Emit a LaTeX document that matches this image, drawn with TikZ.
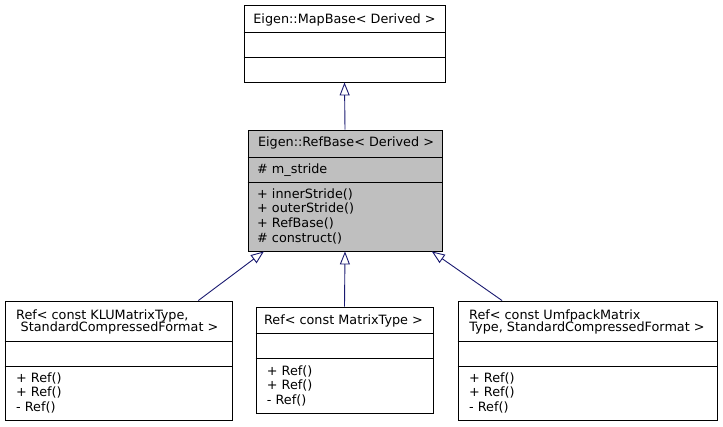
\documentclass[tikz,border=0pt]{standalone}
\usepackage{fontspec}
\setmainfont{DejaVu Sans}
\usetikzlibrary{arrows.meta}
\definecolor{edgecol}{HTML}{191970}
\definecolor{fillg}{HTML}{BFBFBF}
\begin{document}
\begin{tikzpicture}[x=1pt,y=-1pt,
  box/.style={draw=black, line width=0.9pt, inner sep=0pt, fill=white},
  graybox/.style={box, fill=fillg},
  div/.style={draw=black, line width=0.9pt},
  txt/.style={inner sep=0pt, anchor=west, yshift=-1.2pt, font=\fontsize{12.8}{14.7}\selectfont},
  ctxt/.style={inner sep=0pt, anchor=center, yshift=-1.2pt, font=\fontsize{12.8}{14.7}\selectfont},
  inh/.style={draw=edgecol, line width=0.9pt, -{Triangle[length=13pt,width=10pt,fill=white]}}
]
\useasboundingbox (0,0) rectangle (723,427);
% boxes
\node[box, minimum width=201pt, minimum height=77pt] (mapbase) at (344.5,43.5) {};
\node[graybox, minimum width=194pt, minimum height=121pt] (refbase) at (345,190.5) {};
\node[box, minimum width=227pt, minimum height=119pt] (klu) at (118.5,360.5) {};
\node[box, minimum width=177pt, minimum height=106pt] (mat) at (344.5,360) {};
\node[box, minimum width=259pt, minimum height=119pt] (umf) at (587.5,360.5) {};
% dividers
\draw[div] (mapbase.west |- 0,32) -- (mapbase.east |- 0,32);
\draw[div] (mapbase.west |- 0,57) -- (mapbase.east |- 0,57);
\draw[div] (refbase.west |- 0,157) -- (refbase.east |- 0,157);
\draw[div] (refbase.west |- 0,182) -- (refbase.east |- 0,182);
\draw[div] (klu.west |- 0,341) -- (klu.east |- 0,341);
\draw[div] (klu.west |- 0,366) -- (klu.east |- 0,366);
\draw[div] (mat.west |- 0,333) -- (mat.east |- 0,333);
\draw[div] (mat.west |- 0,358) -- (mat.east |- 0,358);
\draw[div] (umf.west |- 0,341) -- (umf.east |- 0,341);
\draw[div] (umf.west |- 0,366) -- (umf.east |- 0,366);
% texts
\node[ctxt] (t1) at (344.5,18.3) {Eigen::MapBase< Derived >};
\node[ctxt] (t2) at (346,142) {Eigen::RefBase< Derived >};
\node[txt] (t2a) at (257,168.5) {\# m\_stride};
\node[txt] (t2b) at (257,193) {+ innerStride()};
\node[txt] (t2c) at (257,207.7) {+ outerStride()};
\node[txt] (t2d) at (257,222.4) {+ RefBase()};
\node[txt] (t2e) at (257,237) {\# construct()};
\node[txt] (t3a) at (16,314.3) {Ref< const KLUMatrixType,};
\node[ctxt] (t3b) at (119.5,327) {StandardCompressedFormat >};
\node[txt] (t3c) at (16,377) {+ Ref()};
\node[txt] (t3d) at (16,391.7) {+ Ref()};
\node[txt] (t3e) at (16,406.5) {- Ref()};
\node[ctxt] (t4) at (343.5,320) {Ref< const MatrixType >};
\node[txt] (t4c) at (266.7,370) {+ Ref()};
\node[txt] (t4d) at (266.7,384.5) {+ Ref()};
\node[txt] (t4e) at (266.7,399.3) {- Ref()};
\node[txt] (t5a) at (469,314.3) {Ref< const UmfpackMatrix};
\node[ctxt] (t5b) at (587,327) {Type, StandardCompressedFormat >};
\node[txt] (t5c) at (469,377) {+ Ref()};
\node[txt] (t5d) at (469,391.7) {+ Ref()};
\node[txt] (t5e) at (469,406.5) {- Ref()};
% connectors
\draw[inh] (refbase.north) -- (mapbase.south);
\draw[inh] (klu) -- (refbase);
\draw[inh] (mat.north) -- (refbase.south);
\draw[inh] (umf) -- (refbase);
\end{tikzpicture}
\end{document}
